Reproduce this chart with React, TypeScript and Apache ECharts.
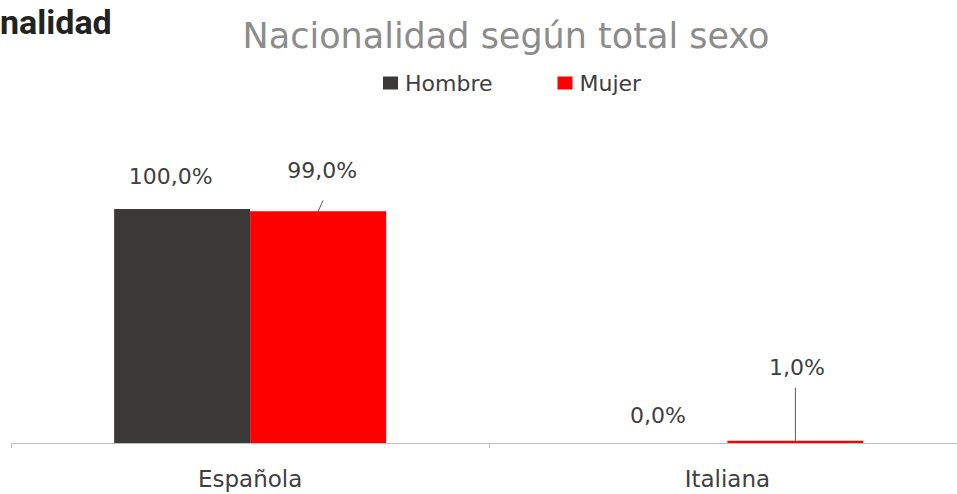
import React, { useEffect, useRef } from "react";
import * as echarts from "echarts";

const categories = ["Española", "Italiana"];
const hombre = [100, 0];
const mujer = [99, 1];
const seriesNames = ["Hombre", "Mujer"];
const titleText = "Nacionalidad según total sexo";
const headingText = "nalidad";

const fmt = (v: number) => v.toFixed(1).replace(".", ",") + "%";

export default function App() {
  const ref = useRef<HTMLDivElement>(null);
  useEffect(() => {
    if (!ref.current) return;
    const chart = echarts.init(ref.current, undefined, { renderer: "svg" });
    const labelFont = { fontFamily: "DejaVu Sans", fontSize: 22, color: "#404040" };
    const BAR_W = 136;
    const hDx = [-11.5, -1.5];
    const hDy = [-32.5, -28];
    const mDx = [4, 1.5];
    const mDy = [-41, -73];
    const leadDx = [5, 0];
    const leadLen = [11, 53];
    chart.setOption({
      animation: false,
      backgroundColor: "#ffffff",
      graphic: [
        {
          type: "text",
          left: 0,
          top: 5,
          style: {
            text: headingText,
            fontFamily: "Roboto",
            fontWeight: "bold",
            fontSize: 34,
            fill: "#222222",
          },
        },
        {
          type: "text",
          x: 506,
          y: 36,
          style: {
            text: titleText,
            fontFamily: "DejaVu Sans",
            fontSize: 35,
            fill: "#8c8c8c",
            align: "center",
            verticalAlign: "middle",
          },
        },
      ],
      legend: {
        left: 378,
        top: 67,
        itemWidth: 15,
        itemHeight: 13,
        itemGap: 65,
        icon: "rect",
        textStyle: { fontFamily: "DejaVu Sans", fontSize: 22, color: "#404040", padding: [0, 0, 0, 2] },
        data: seriesNames,
      },
      grid: { left: 11.5, right: 0, top: 209, bottom: 51, containLabel: false },
      xAxis: {
        type: "category",
        data: categories,
        axisLine: { lineStyle: { color: "#bfbfbf", width: 1 } },
        axisTick: { show: true, length: 5, lineStyle: { color: "#bfbfbf" } },
        axisLabel: { ...labelFont, fontSize: 23, margin: 24 },
      },
      yAxis: {
        type: "value",
        min: 0,
        max: 100,
        show: false,
        splitLine: { show: false },
      },
      series: [
        {
          name: seriesNames[0],
          type: "bar",
          data: hombre,
          barWidth: BAR_W,
          barGap: "0%",
          itemStyle: { color: "#3b3838" },
          label: { show: true, position: "top", formatter: (p: any) => fmt(p.value), ...labelFont },
          labelLayout: (p: any) => {
            const r = p.rect;
            const i = p.dataIndex;
            return {
              x: r.x + r.width / 2 + hDx[i],
              y: r.y + hDy[i],
              align: "center",
              verticalAlign: "middle",
            };
          },
        },
        {
          name: seriesNames[1],
          type: "bar",
          data: mujer,
          barWidth: BAR_W,
          barGap: "0%",
          itemStyle: { color: "#ff0000" },
          label: { show: true, position: "top", formatter: (p: any) => fmt(p.value), ...labelFont },
          labelLayout: (p: any) => {
            const r = p.rect;
            const i = p.dataIndex;
            const top = Math.min(r.y, r.y + r.height);
            return {
              x: r.x + r.width / 2 + mDx[i],
              y: top + mDy[i],
              align: "center",
              verticalAlign: "middle",
            };
          },
        },
        {
          name: "leader",
          type: "custom",
          silent: true,
          z: 5,
          data: mujer.map((v, i) => [i, v]),
          renderItem: (params: any, api: any) => {
            const i = params.dataIndex;
            const p = api.coord([api.value(0), api.value(1)]);
            const x = p[0] + BAR_W / 2;
            const y = p[1];
            return {
              type: "line",
              shape: { x1: x, y1: y, x2: x + leadDx[i], y2: y - leadLen[i] },
              style: { stroke: "#595959", lineWidth: 1 },
            };
          },
        },
      ],
    });
    return () => chart.dispose();
  }, []);
  return (
    <div
      ref={ref}
      style={{ width: 966, height: 494, position: "fixed", left: 0, top: 0 }}
    />
  );
}
